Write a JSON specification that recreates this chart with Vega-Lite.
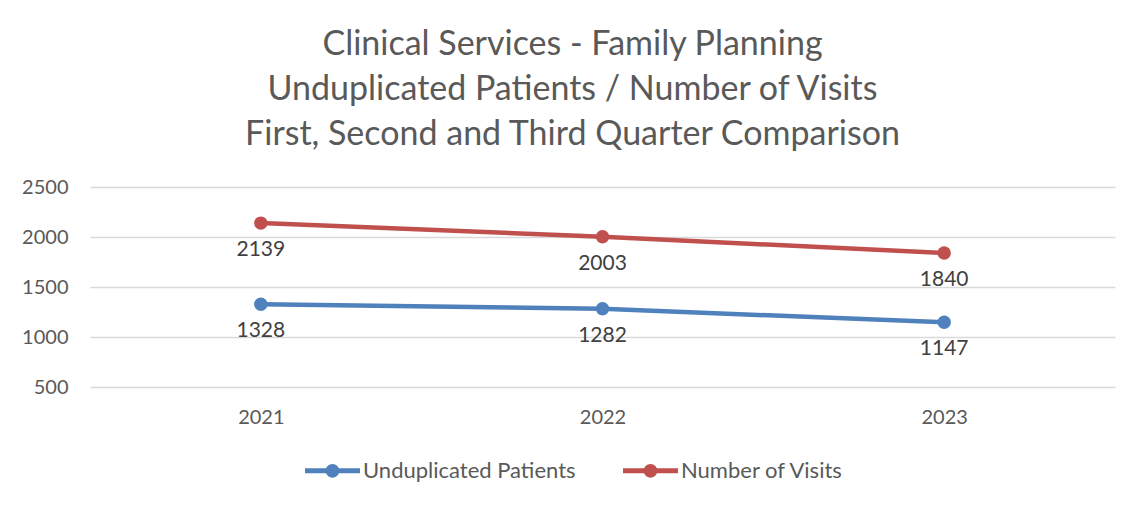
{
  "$schema": "https://vega.github.io/schema/vega-lite/v6.json",
  "width": 1025,
  "height": 200,
  "autosize": {"type": "none"},
  "padding": {"left": 90, "top": 187, "right": 28, "bottom": 123},
  "background": "#ffffff",
  "config": {"view": {"stroke": null}},
  "title": {
    "text": ["Clinical Services - Family Planning", "Unduplicated Patients / Number of Visits", "First, Second and Third Quarter Comparison"],
    "anchor": "middle",
    "frame": "group",
    "dx": -30,
    "offset": 25,
    "font": "Lato",
    "fontSize": 34,
    "fontWeight": "normal",
    "lineHeight": 45,
    "color": "#595959"
  },
  "data": {
    "values": [
      {"year": "2021", "series": "Unduplicated Patients", "value": 1328},
      {"year": "2022", "series": "Unduplicated Patients", "value": 1282},
      {"year": "2023", "series": "Unduplicated Patients", "value": 1147},
      {"year": "2021", "series": "Number of Visits", "value": 2139},
      {"year": "2022", "series": "Number of Visits", "value": 2003},
      {"year": "2023", "series": "Number of Visits", "value": 1840}
    ]
  },
  "encoding": {
    "x": {
      "field": "year", "type": "ordinal",
      "scale": {"paddingInner": 0, "paddingOuter": 0, "align": 0.5},
      "axis": {"title": null, "labelAngle": 0, "domain": false, "ticks": false, "labelPadding": 20, "labelFontSize": 20, "labelColor": "#595959", "labelFont": "Lato"}
    },
    "y": {
      "field": "value", "type": "quantitative",
      "scale": {"domain": [500, 2500], "nice": false, "zero": false},
      "axis": {"title": null, "values": [500, 1000, 1500, 2000, 2500], "format": "d", "domain": false, "ticks": false, "labelPadding": 22, "labelFontSize": 20, "labelColor": "#595959", "labelFont": "Lato", "gridColor": "#d9d9d9", "gridWidth": 1.5}
    },
    "color": {
      "field": "series", "type": "nominal",
      "scale": {"domain": ["Unduplicated Patients", "Number of Visits"], "range": ["#4f81bd", "#c0504d"]},
      "legend": {
        "title": null,
        "orient": "none",
        "direction": "horizontal",
        "legendX": 215,
        "legendY": 256,
        "symbolType": "M-1,-0.09 L1,-0.09 L1,0.09 L-1,0.09 Z M0,-0.25 A0.25,0.25 0 1,1 0,0.25 A0.25,0.25 0 1,1 0,-0.25 Z",
        "symbolSize": 3025,
        "symbolStrokeWidth": 0,
        "symbolOpacity": 1,
        "labelFontSize": 22,
        "labelFont": "Lato",
        "labelColor": "#595959",
        "labelOffset": 3,
        "columnPadding": 47,
        "labelLimit": 400,
        "encode": {"symbols": {"update": {"fill": {"scale": "color", "field": "value"}, "strokeWidth": {"value": 0}}}}
      }
    }
  },
  "layer": [
    {"mark": {"type": "line", "strokeWidth": 4.5}},
    {"mark": {"type": "point", "filled": true, "opacity": 1, "size": 180}},
    {"mark": {"type": "text", "dy": 27, "fontSize": 21, "font": "Lato", "color": "#404040"},
     "encoding": {"text": {"field": "value", "type": "quantitative", "format": "d"}, "color": {"value": "#404040"}}}
  ]
}
